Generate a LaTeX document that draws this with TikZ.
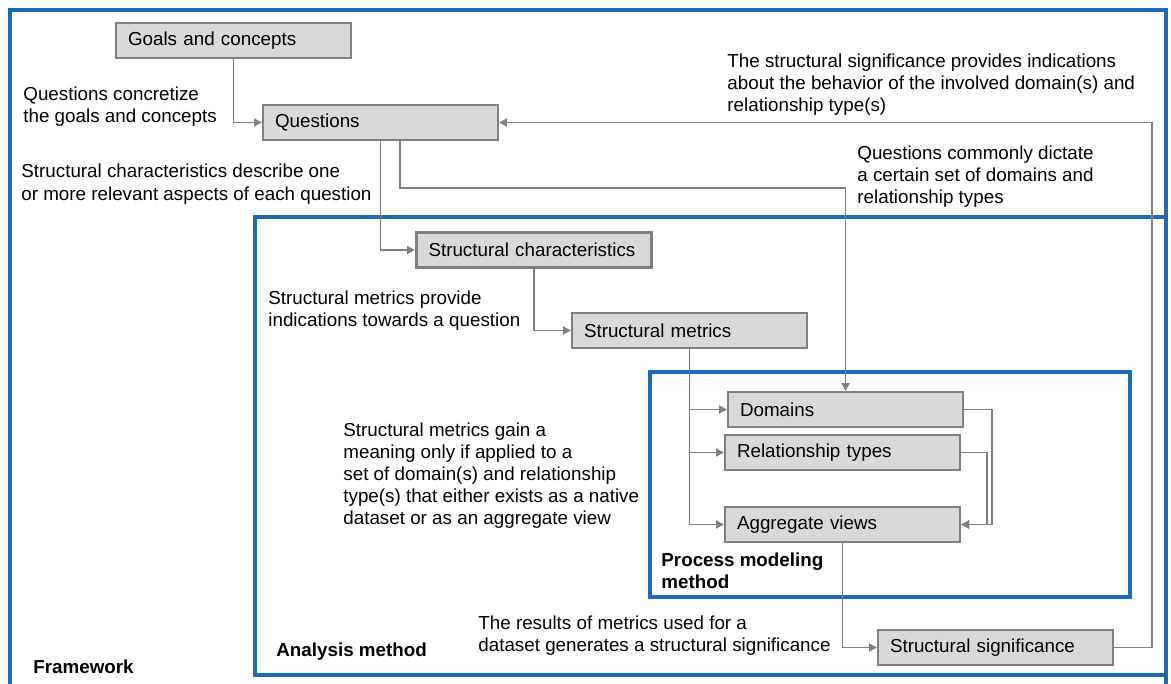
\documentclass[tikz,border=0pt]{standalone}
\usepackage{fontspec}
\setmainfont{Liberation Sans}
\usetikzlibrary{arrows.meta, positioning, calc}
\definecolor{fwblue}   {RGB}{28, 107, 184}
\definecolor{boxgray}  {RGB}{217,217, 217}
\definecolor{linegray} {RGB}{128,128, 128}

\begin{document}
\begin{tikzpicture}[x=0.5pt, y=-0.5pt,
  font=\fontsize{9.4}{11}\selectfont,
  box/.style={draw=linegray, line width=1pt, fill=boxgray, anchor=north west,
    minimum height=17.5pt, text width=105.5pt, inner xsep=6pt, align=left},
  frame/.style={draw=fwblue, line width=2pt},
  arr/.style={draw=linegray, line width=0.9pt, -{Triangle[length=4pt,width=4pt]}},
  note/.style={anchor=base west, align=left, inner sep=0pt},
  title/.style={note, font=\fontsize{9.4}{11}\selectfont\bfseries}]
\clip (0,0) rectangle (1171,684);
% frames
\draw[frame] (10,10) rectangle (1166,700);
\draw[frame] (255,217) rectangle (1166,675);
\draw[frame] (650,372) rectangle (1130,597);
% boxes
\node[box] (goals) at (115,22) {Goals and concepts};
\node[box] (quest) at (262,104) {Questions};
\node[box, line width=1.5pt] (schar) at (415,231) {Structural characteristics};
\node[box] (smet) at (571,312) {Structural metrics};
\node[box] (dom) at (727,391) {Domains};
\node[box] (rel) at (724,434) {Relationship types};
\node[box] (aggr) at (724,506) {Aggregate views};
\node[box] (ssig) at (877,629) {Structural significance};
% connectors
\coordinate (qdom) at (400,188);
\draw[arr] (goals) |- (quest);
\draw[arr] (quest) |- (schar);
\draw[arr] (quest.south -| qdom) -- (qdom) -| (dom);
\draw[arr] (schar) |- (smet);
\draw[arr] (smet) |- (dom);
\draw[arr] (smet) |- (rel);
\draw[arr] (smet) |- (aggr);
\draw[arr] (dom.east) -- ++(28,0) |- (aggr.east);
\draw[arr] (rel.east) -- ++(26,0) |- (aggr.east);
\draw[arr] (aggr) |- (ssig);
\draw[arr] (ssig.east) -- ++(38,0) |- (quest.east);
% texts (anchored at the baseline of the last line)
\node[note] (nconc) at (23,123) {Questions concretize\\the goals and concepts};
\node[note] (nchar) at (21,200) {Structural characteristics describe one\\or more relevant aspects of each question};
\node[note] (nsig) at (727,112) {The structural significance provides indications\\about the behavior of the involved domain(s) and\\relationship type(s)};
\node[note] (ndict) at (857,204) {Questions commonly dictate\\a certain set of domains and\\relationship types};
\node[note] (nprov) at (268,326) {Structural metrics provide\\indications towards a question};
\node[note] (ngain) at (343,524) {Structural metrics gain a\\meaning only if applied to a\\set of domain(s) and relationship\\type(s) that either exists as a native\\dataset or as an aggregate view};
\node[title] (tproc) at (661,588) {Process modeling\\method};
\node[note] (nres) at (478,651) {The results of metrics used for a\\dataset generates a structural significance};
\node[title] (tana) at (276,656) {Analysis method};
\node[title] (tfw) at (33,673) {Framework};
\end{tikzpicture}
\end{document}
